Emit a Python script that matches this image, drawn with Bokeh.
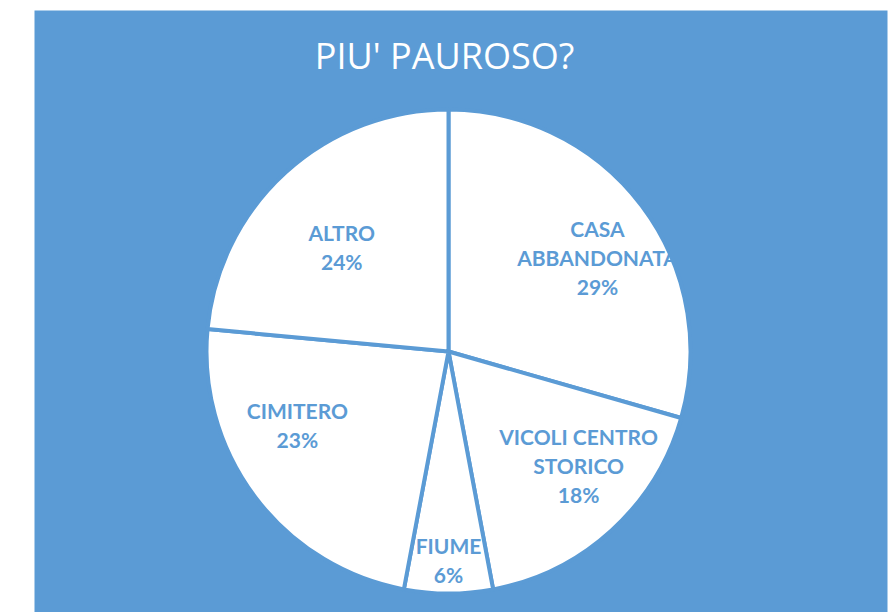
import math
from bokeh.plotting import figure
from bokeh.models import ColumnDataSource, Label, Range1d
from bokeh.core.properties import value
from bokeh.embed import file_html
from bokeh.resources import INLINE

# ---- data ----
title_text = "PIU' PAUROSO?"
categories = ["CASA\nABBANDONATA", "VICOLI CENTRO\nSTORICO", "FIUME", "CIMITERO", "ALTRO"]
shares = [29.4, 17.6, 5.9, 23.5, 23.5]          # slice sizes
pct_labels = ["29%", "18%", "6%", "23%", "24%"]  # labels as printed

# ---- style / layout ----
BLUE = "#5B9BD5"
FRAME_W, FRAME_H = 853, 602
LEFT, TOP = 34, 10
W, H = LEFT + FRAME_W + 1, TOP + FRAME_H
CX, CY, R = 414, 261, 242
label_r = [0.727, 0.715, 0.86, 0.694, 0.616]
label_off = [-4.9, 6.4, 0.0, -11.2, 3.4]
LINE_H = 29

p = figure(width=W, height=H, output_backend="svg", toolbar_location=None,
           x_range=Range1d(0, FRAME_W), y_range=Range1d(0, FRAME_H),
           min_border_left=LEFT, min_border_right=1, min_border_top=TOP, min_border_bottom=0)
p.axis.visible = False
p.grid.visible = False
p.outline_line_color = None
p.background_fill_color = BLUE
p.border_fill_color = "white"

total = sum(shares)
starts, ends, mids = [], [], []
cum = 0.0
for s in shares:
    a0 = math.radians(90 - cum / total * 360)
    cum += s
    a1 = math.radians(90 - cum / total * 360)
    starts.append(a0)
    ends.append(a1)
    mids.append((a0 + a1) / 2)

src = ColumnDataSource(dict(x=[CX] * len(shares), y=[CY] * len(shares),
                            start=ends, end=starts))
p.wedge(x="x", y="y", radius=R, start_angle="start", end_angle="end",
        source=src, fill_color="white", line_color=BLUE, line_width=4)

tx, ty, tt, toff = [], [], [], []
for i, cat in enumerate(categories):
    ang = mids[i] + math.radians(label_off[i])
    lx = CX + label_r[i] * R * math.cos(ang)
    ly = CY + label_r[i] * R * math.sin(ang)
    lines = cat.split("\n") + [pct_labels[i]]
    n = len(lines)
    for j, ln in enumerate(lines):
        tx.append(lx)
        ty.append(ly)
        tt.append(ln)
        toff.append((j - (n - 1) / 2) * LINE_H)

lsrc = ColumnDataSource(dict(x=tx, y=ty, text=tt, yoff=toff))
p.text(x="x", y="y", text="text", y_offset="yoff", source=lsrc,
       text_align="center", text_baseline="middle",
       text_font=value("Lato"), text_font_style="bold",
       text_font_size="21px", text_color=BLUE)

p.add_layout(Label(x=410, y=557, text=title_text, text_align="center",
                   text_baseline="middle", text_font="Open Sans",
                   text_font_size="36px", text_color="white"))

open("out.html", "w").write(file_html(p, INLINE))
